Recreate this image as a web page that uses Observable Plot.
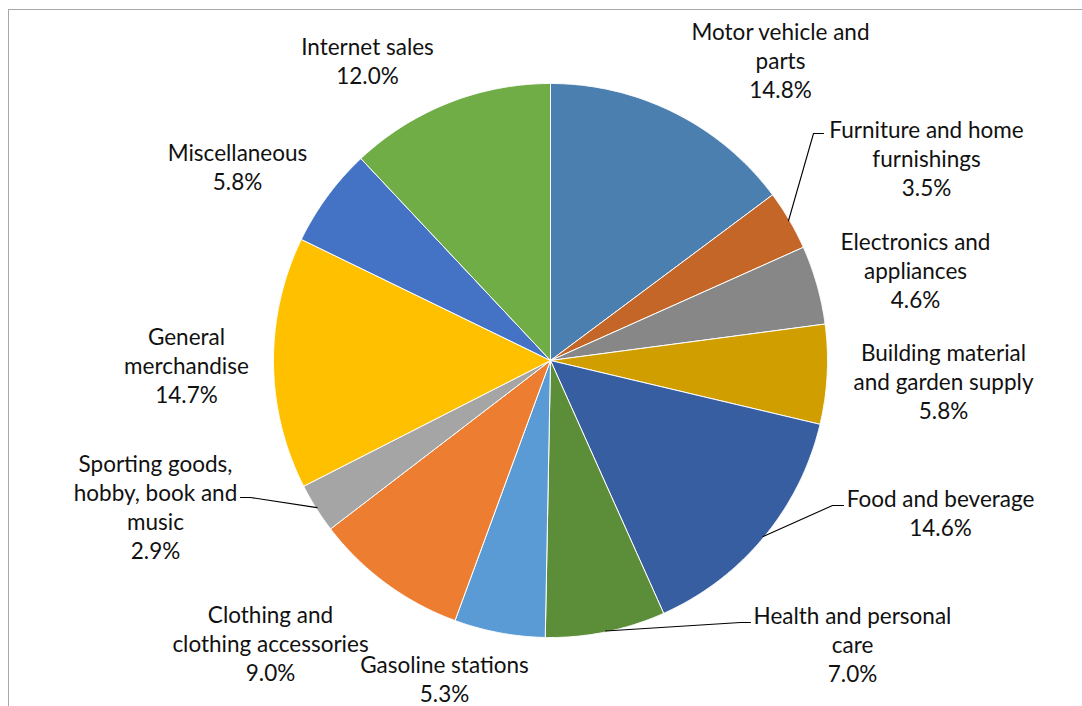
<!DOCTYPE html>
<html><head><meta charset="utf-8">
<script src="https://cdn.jsdelivr.net/npm/d3@7"></script>
<script src="https://cdn.jsdelivr.net/npm/@observablehq/plot@0.6"></script>
<style>
html,body{margin:0;padding:0;background:#fff;overflow:hidden}
#wrap{position:relative;width:1082px;height:706px;overflow:hidden}
#chart{position:absolute;left:0;top:0}
#frame{position:absolute;left:8px;top:9px;width:1100px;height:740px;border:1.5px solid #a8a8a8;box-sizing:border-box;pointer-events:none}
</style></head><body>
<div id="wrap"><div id="chart"></div><div id="frame"></div></div>
<script>
// ---- data ----
const categories = [
  "Motor vehicle and\nparts",
  "Furniture and home\nfurnishings",
  "Electronics and\nappliances",
  "Building material\nand garden supply",
  "Food and beverage",
  "Health and personal\ncare",
  "Gasoline stations",
  "Clothing and\nclothing accessories",
  "Sporting goods,\nhobby, book and\nmusic",
  "General\nmerchandise",
  "Miscellaneous",
  "Internet sales"
];
const shares = [14.8, 3.5, 4.6, 5.8, 14.6, 7.0, 5.3, 9.0, 2.9, 14.7, 5.8, 12.0];
const colors = ["#4b7faf", "#c46628", "#878787", "#d19e00", "#375ea1", "#5c8e3a",
                "#5b9bd5", "#ed7d31", "#a5a5a5", "#ffc000", "#4472c4", "#70ad47"];

// ---- layout ----
const CX = 550, CY = 360, R = 277;
const labelAt = [[780, 59], [926, 157], [915, 269], [943, 380], [940, 512], [852, 643],
                 [444, 678], [270, 642], [155, 506], [186, 364], [237, 166], [367, 60]];
const leaderBends = [
  [1, [[813, 133], [823, 133]]],
  [4, [[832, 505], [843, 505]]],
  [5, [[740, 622], [750, 622]]],
  [8, [[250, 497], [240, 497]]]
];

// ---- geometry from data ----
const total = d3.sum(shares);
let acc = 0;
const slices = shares.map((v, i) => {
  const a0 = acc / total * 2 * Math.PI; acc += v;
  const a1 = acc / total * 2 * Math.PI;
  return {i, name: categories[i], a0, a1, mid: (a0 + a1) / 2};
});
const pt = (a, r) => [CX + r * Math.sin(a), CY - r * Math.cos(a)];
const polys = slices.flatMap(s => {
  const n = Math.max(4, Math.ceil((s.a1 - s.a0) / 0.004));
  const pts = [{name: s.name, x: CX, y: CY}];
  for (let k = 0; k <= n; k++) {
    const [x, y] = pt(s.a0 + (s.a1 - s.a0) * k / n, R);
    pts.push({name: s.name, x, y});
  }
  pts.push({name: s.name, x: CX, y: CY});
  return pts;
});
const leaders = leaderBends.flatMap(([i, bends]) => {
  const [x0, y0] = pt(slices[i].mid, R - 1);
  return [{k: i, x: x0, y: y0}, ...bends.map(([x, y]) => ({k: i, x, y}))];
});
const labels = slices.map(s => ({
  x: labelAt[s.i][0], y: labelAt[s.i][1],
  text: s.name + "\n" + shares[s.i].toFixed(1) + "%"
}));

const chart = Plot.plot({
  width: 1082, height: 706, margin: 0,
  x: {domain: [0, 1082], range: [0, 1082], axis: null},
  y: {domain: [0, 706], range: [0, 706], axis: null},
  color: {domain: categories, range: colors},
  style: {fontFamily: "Lato, 'Open Sans', sans-serif", background: "transparent"},
  marks: [
    Plot.line(polys, {x: "x", y: "y", z: "name", fill: "name", stroke: "white", strokeWidth: 1, strokeLinejoin: "round"}),
    Plot.line(leaders, {x: "x", y: "y", z: "k", stroke: "black", strokeWidth: 1.1}),
    Plot.text(labels, {x: "x", y: "y", text: "text", fontSize: 22.5, lineHeight: 1.29, fill: "#111"})
  ]
});
document.getElementById("chart").appendChild(chart);
</script>
</body></html>
